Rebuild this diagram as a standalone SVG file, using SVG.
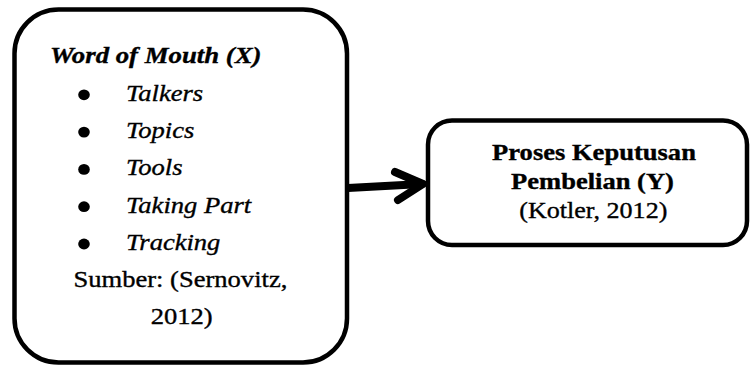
<svg xmlns="http://www.w3.org/2000/svg" width="750" height="369" viewBox="0 0 750 369">
<style>
.box{fill:#fff;stroke:#000;stroke-width:4.5}
text{stroke:#000;stroke-width:0.35}
.bi{font-weight:bold;font-style:italic}
.i{font-style:italic}
.b{font-weight:bold}
.c{text-anchor:middle}
.con{fill:none;stroke:#000;stroke-width:8;stroke-linecap:round;stroke-linejoin:round}
</style>
<rect width="750" height="369" fill="#fff"/>
<g id="connectors">
<path class="con" d="M348,188 L422,184"/>
<path class="con" d="M395,172 L423,184 L398,200"/>
</g>
<g id="node-wom" font-family="Liberation Serif, serif" font-size="23.3" fill="#000">
<rect class="box" x="14.5" y="9.5" width="332.5" height="353" rx="44" ry="44"/>
<text class="bi" transform="translate(50,63.3) scale(1.15,1)">Word of Mouth (X)</text>
<ellipse cx="84" cy="94.8" rx="5.8" ry="5.4"/>
<ellipse cx="84" cy="132.1" rx="5.8" ry="5.4"/>
<ellipse cx="84" cy="169.4" rx="5.8" ry="5.4"/>
<ellipse cx="84" cy="206.7" rx="5.8" ry="5.4"/>
<ellipse cx="84" cy="244" rx="5.8" ry="5.4"/>
<text class="i" transform="translate(126,100.6) scale(1.14,1)">Talkers</text>
<text class="i" transform="translate(126,137.9) scale(1.14,1)">Topics</text>
<text class="i" transform="translate(126,175.2) scale(1.14,1)">Tools</text>
<text class="i" transform="translate(126,212.5) scale(1.14,1)">Taking Part</text>
<text class="i" transform="translate(126,249.8) scale(1.14,1)">Tracking</text>
<text transform="translate(73.5,287.1) scale(1.14,1)">Sumber: (Sernovitz,</text>
<text transform="translate(150.7,324.4) scale(1.14,1)">2012)</text>
</g>
<g id="node-proses" font-family="Liberation Serif, serif" font-size="23.3" fill="#000">
<rect class="box" x="428" y="120.5" width="319" height="124.5" rx="24" ry="24"/>
<text class="b c" transform="translate(594,160) scale(1.14,1)">Proses Keputusan</text>
<text class="b c" transform="translate(592.5,189) scale(1.14,1)">Pembelian (Y)</text>
<text class="c" transform="translate(593.3,218) scale(1.12,1)">(Kotler, 2012)</text>
</g>
</svg>
